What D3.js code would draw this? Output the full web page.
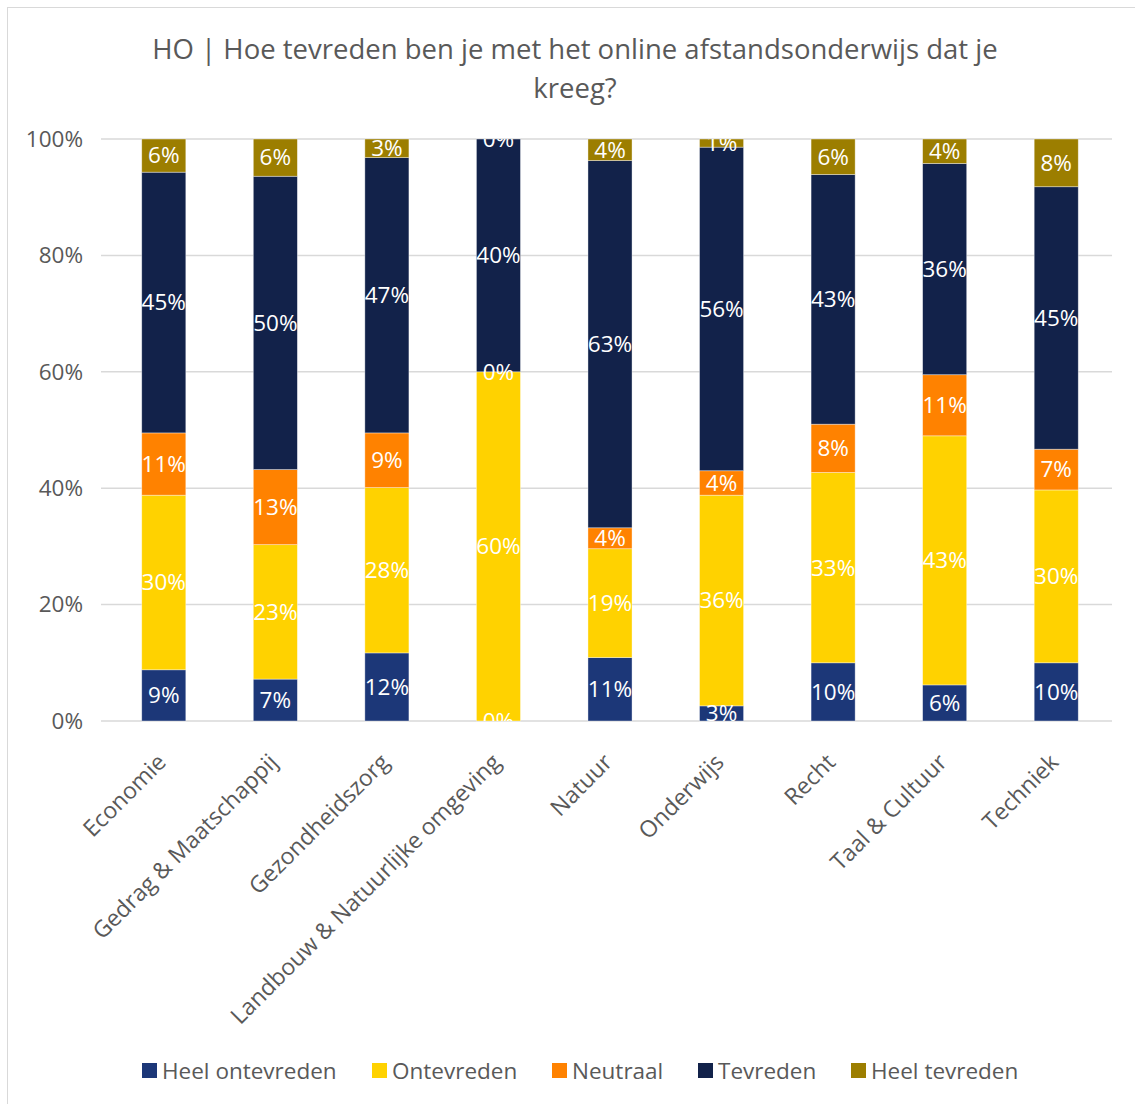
<!DOCTYPE html>
<html>
<head>
<meta charset="utf-8">
<script src="https://cdn.jsdelivr.net/npm/d3@7"></script>
<style>
  body { margin: 0; background: #fff; }
  text { font-family: "Open Sans", "Noto Sans", sans-serif; }
</style>
</head>
<body>
<div class="chart"></div>
<script>
const categories = ['Economie', 'Gedrag & Maatschappij', 'Gezondheidszorg', 'Landbouw & Natuurlijke omgeving',
    'Natuur', 'Onderwijs', 'Recht', 'Taal & Cultuur', 'Techniek'];
const seriesNames = ['Heel ontevreden', 'Ontevreden', 'Neutraal', 'Tevreden', 'Heel tevreden'];
const heelOntevreden = [8.8, 7.2, 11.7, 0, 10.9, 2.6, 10.0, 6.2, 10.0];
const ontevreden     = [30.0, 23.1, 28.4, 60, 18.7, 36.2, 32.7, 42.8, 29.7];
const neutraal       = [10.7, 12.9, 9.4, 0, 3.6, 4.2, 8.3, 10.5, 7.0];
const tevreden       = [44.8, 50.4, 47.3, 40, 63.1, 55.6, 42.9, 36.3, 45.1];
const heelTevreden   = [5.7, 6.4, 3.2, 0, 3.7, 1.4, 6.1, 4.2, 8.2];
const yTicks = [0, 20, 40, 60, 80, 100];
const colors = ['#1c3778', '#ffd200', '#ff8200', '#12224a', '#9c7e00'];

const W = 1135, H = 1104;
const margin = {top: 139, right: 23, bottom: 383, left: 101};
const width = W - margin.left - margin.right;
const height = H - margin.top - margin.bottom;

const rows = categories.map((c, i) => ({
    cat: c,
    'Heel ontevreden': heelOntevreden[i],
    'Ontevreden': ontevreden[i],
    'Neutraal': neutraal[i],
    'Tevreden': tevreden[i],
    'Heel tevreden': heelTevreden[i]
}));
const stacked = d3.stack().keys(seriesNames)(rows);

let root = d3.select('.chart').append('svg')
    .attr('width', W).attr('height', H);

root.append('rect')
    .attr('x', 7.5).attr('y', 7.5)
    .attr('width', W).attr('height', H)
    .style('fill', '#fff').style('stroke', '#d9d9d9');

root.append('text')
    .attr('x', 575).attr('y', 59)
    .attr('text-anchor', 'middle')
    .style('font-size', '27.5px').style('fill', '#595959')
    .selectAll('tspan')
    .data(['HO | Hoe tevreden ben je met het online afstandsonderwijs dat je', 'kreeg?'])
    .join('tspan')
        .attr('x', 575)
        .attr('dy', (d, i) => i ? 39 : 0)
        .text(d => d);

let svg = root.append('g')
    .attr('transform', `translate(${margin.left}, ${margin.top})`);

let xScale = d3.scaleBand().domain(categories).range([7, width]).paddingInner(0.605).paddingOuter(0.3025);
let yScale = d3.scaleLinear().domain([0, 100]).range([height, 0]);

svg.append('g')
    .selectAll('line').data(yTicks).join('line')
    .attr('x1', 0).attr('x2', width)
    .attr('y1', d => yScale(d)).attr('y2', d => yScale(d))
    .style('stroke', '#d9d9d9').style('stroke-width', 1.5);

let yAxis = d3.axisLeft(yScale).tickValues(yTicks).tickFormat(d => d + '%').tickSize(0).tickPadding(18);
let yg = svg.append('g').call(yAxis);
yg.select('.domain').remove();
yg.selectAll('text').style('font-size', '22.5px').style('fill', '#595959').style('font-family', '"Open Sans", sans-serif');

svg.append('g')
    .selectAll('g').data(stacked).join('g')
        .style('fill', (d, i) => colors[i])
    .selectAll('rect').data(d => d).join('rect')
        .attr('x', d => xScale(d.data.cat))
        .attr('width', xScale.bandwidth())
        .attr('y', d => yScale(d[1]))
        .attr('height', d => yScale(d[0]) - yScale(d[1]))
        .style('stroke', 'rgba(255,255,255,0.5)').style('stroke-width', 0.75);

svg.append('clipPath').attr('id', 'plotclip')
    .append('rect').attr('x', -5).attr('y', 0).attr('width', width + 10).attr('height', height);

svg.append('g').attr('clip-path', 'url(#plotclip)')
    .selectAll('g').data(stacked).join('g')
    .selectAll('text').data(d => d).join('text')
        .attr('x', d => xScale(d.data.cat) + xScale.bandwidth() / 2)
        .attr('y', d => yScale((d[0] + d[1]) / 2))
        .attr('dy', '0.35em')
        .attr('text-anchor', 'middle')
        .style('font-size', '22.5px').style('fill', '#fff')
        .text(d => Math.round(d[1] - d[0]) + '%');

let xAxis = d3.axisBottom(xScale).tickSize(0).tickPadding(0);
let xg = svg.append('g').attr('transform', `translate(0, ${height})`).call(xAxis);
xg.select('.domain').remove();
xg.selectAll('text')
    .attr('text-anchor', 'end')
    .attr('transform', 'translate(-2, 37) rotate(-45)')
    .attr('dy', '0.35em')
    .style('font-size', '23px').style('fill', '#595959').style('font-family', '"Open Sans", sans-serif');

// legend
let legendX = [142, 372, 552, 698, 851];
let lg = root.append('g').selectAll('g').data(seriesNames).join('g')
    .attr('transform', (d, i) => `translate(${legendX[i]}, 1071)`);
lg.append('rect').attr('x', 0).attr('y', -8).attr('width', 15).attr('height', 15)
    .style('fill', (d, i) => colors[i]);
lg.append('text').attr('x', 20).attr('dy', '0.35em')
    .style('font-size', '22.5px').style('fill', '#595959')
    .text(d => d);
</script>
</body>
</html>
